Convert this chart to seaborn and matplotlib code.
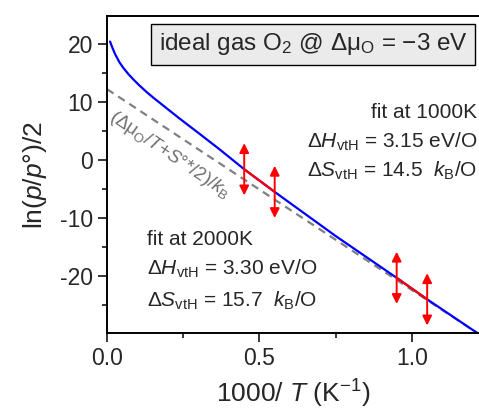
import numpy as np
import pandas as pd
import matplotlib
matplotlib.use("Agg")
from matplotlib import pyplot as plt
from matplotlib.ticker import MultipleLocator
import seaborn as sns

# ideal gas curve
inv_T = [0.010, 0.018, 0.026, 0.040, 0.053, 0.070, 0.086, 0.105, 0.130, 0.155,
         0.185, 0.234, 0.300, 0.370, 0.450, 0.550, 0.750, 0.950, 1.050, 1.220]
ln_p = [20.4, 19.3, 18.3, 16.9, 15.9, 14.8, 13.9, 12.9, 11.7, 10.6,
        9.35, 7.3, 4.65, 1.8, -1.6, -5.5, -13.1, -20.3, -24.0, -30.0]

# straight reference line (mu/T + S/2)/kB
ref_x = [0.0, 1.22]
ref_y = [12.2, -30.0]

# van 't Hoff fits
fit2000_x = [0.45, 0.55]
fit2000_y = [-1.6, -5.5]
fit1000_x = [0.95, 1.05]
fit1000_y = [-20.3, -24.0]
arrow_half = 4.5

sns.set_style("ticks")
plt.rcParams['font.family'] = ['Liberation Sans', 'DejaVu Sans']
plt.rcParams['mathtext.fontset'] = 'custom'
plt.rcParams['mathtext.rm'] = 'Liberation Sans'
plt.rcParams['mathtext.it'] = 'Liberation Sans:italic'
plt.rcParams['mathtext.bf'] = 'Liberation Sans:bold'
plt.rcParams['axes.unicode_minus'] = False

curve = pd.DataFrame({'x': inv_T, 'y': ln_p})
ref = pd.DataFrame({'x': ref_x, 'y': ref_y})

fig = plt.figure(figsize=(4.79, 4.13), dpi=100)
ax = fig.add_axes([107 / 479, 80 / 413, 372 / 479, 317 / 413])

sns.lineplot(data=ref, x='x', y='y', ax=ax, color='#808080', lw=1.6,
             linestyle=(0, (3.5, 2.5)), estimator=None, sort=False)
sns.lineplot(data=curve, x='x', y='y', ax=ax, color='#0000ff', lw=1.6,
             estimator=None, sort=False)
for fx, fy in [(fit2000_x, fit2000_y), (fit1000_x, fit1000_y)]:
    sns.lineplot(x=fx, y=fy, ax=ax, color='#ff0000', lw=1.6, estimator=None)
    for xx, yy in zip(fx, fy):
        ax.annotate('', xy=(xx, yy + arrow_half), xytext=(xx, yy - arrow_half),
                    arrowprops=dict(arrowstyle='<|-|>', color='#ff0000', lw=1.4,
                                    mutation_scale=14, shrinkA=0, shrinkB=0))

ax.set_xlim(0, 1.22)
ax.set_ylim(-29.8, 24.8)
ax.xaxis.set_minor_locator(MultipleLocator(0.25))
ax.yaxis.set_major_locator(MultipleLocator(10))
ax.yaxis.set_minor_locator(MultipleLocator(5))
ax.set_xticks([0.0, 0.5, 1.0])
ax.set_xticklabels(['0.0', '0.5', '1.0'])
ax.tick_params(which='major', direction='out', length=6.5, width=1.3, labelsize=16.5,
               pad=3.5, top=False, right=False)
ax.tick_params(which='minor', direction='out', length=3.5, width=1.3,
               top=False, right=False)
for side in ['left', 'bottom', 'top']:
    ax.spines[side].set_linewidth(1.4)
    ax.spines[side].set_color('black')
ax.spines['right'].set_visible(False)

ax.set_xlabel('1000/ $T$ (K$^{-1}$)', fontsize=19, labelpad=6)
ax.set_ylabel(r'ln($p$/$p$°)/2', fontsize=19, labelpad=8)

ax.text(0.676, 19.9, r'ideal gas O$_2$ @ Δμ$_\mathrm{O}$ = −3 eV', fontsize=17.5,
        ha='center', va='center',
        bbox=dict(boxstyle='square,pad=0.32', fc='#ebebeb', ec='black', lw=1))

ax.text(0.207, 0.9, r'(Δμ$_\mathrm{O}$/$T$+$S$°*/2)/$k_\mathrm{B}$', fontsize=13.5,
        color='#707070', rotation=-34, rotation_mode='anchor',
        ha='center', va='center')

ax.text(1.215, 7.3, 'fit at 1000K', fontsize=15, ha='right', va='baseline')
ax.text(1.215, 2.1, r'Δ$H_\mathrm{vtH}$ = 3.15 eV/O', fontsize=15, ha='right', va='baseline')
ax.text(1.215, -2.9, r'Δ$S_\mathrm{vtH}$ = 14.5  $k_\mathrm{B}$/O', fontsize=15, ha='right', va='baseline')

ax.text(0.131, -14.7, 'fit at 2000K', fontsize=15, ha='left', va='baseline')
ax.text(0.131, -19.8, r'Δ$H_\mathrm{vtH}$ = 3.30 eV/O', fontsize=15, ha='left', va='baseline')
ax.text(0.131, -25.2, r'Δ$S_\mathrm{vtH}$ = 15.7  $k_\mathrm{B}$/O', fontsize=15, ha='left', va='baseline')

fig.savefig('out.png', dpi=100)
